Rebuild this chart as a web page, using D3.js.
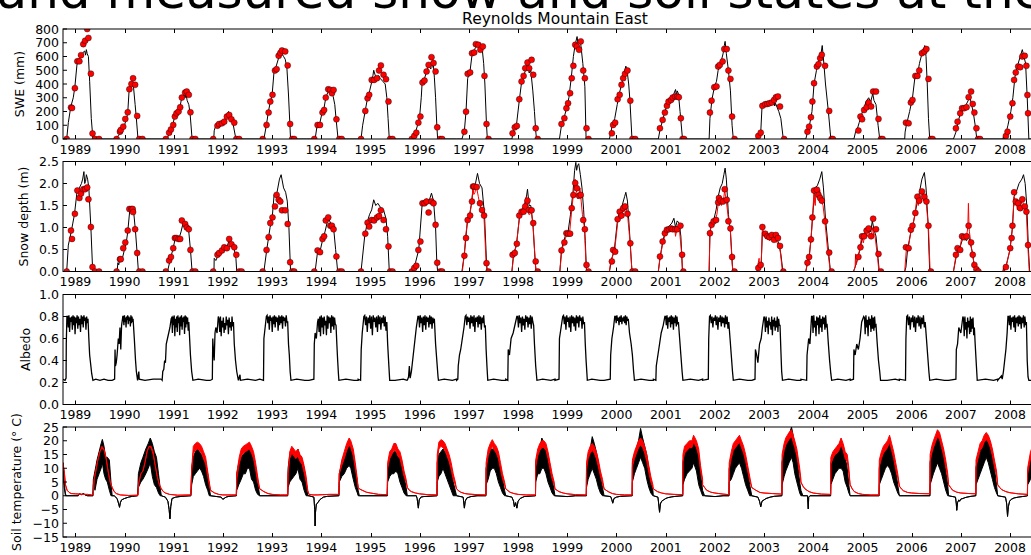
<!DOCTYPE html>
<html>
<head>
<meta charset="utf-8">
<script src="https://cdnjs.cloudflare.com/ajax/libs/d3/7.8.5/d3.min.js"></script>
<style>
  body { margin: 0; background: #fff; overflow: hidden; }
  text { font-family: "DejaVu Sans", sans-serif; fill: #000; }
</style>
</head>
<body>
<svg id="chart"></svg>
<script>
var width = 1031, height = 555;

// water years Oct 1 .. Sep 30; every point below is [months since Oct 1, value...]
var waterYears = d3.range(1989, 2009);
var yearTicks = d3.range(1989, 2009);

var sweModel = [
  [[0,0],[0.9,0],[1.3,120],[1.9,235],[2.5,300],[2.9,380],[3.4,540],[3.8,570],[4.4,600],[4.9,630],[5.3,640],[5.5,610],[5.7,650],[5.9,620],[6.2,600],[6.5,420],[6.9,150],[7.3,0],[12,0]],
  [[0,0],[1.2,0],[1.3,20],[1.6,25],[2.0,50],[2.5,70],[3.0,100],[3.5,150],[3.8,190],[4.1,340],[4.4,380],[4.8,410],[5.0,400],[5.2,380],[5.6,250],[5.9,150],[6.3,0],[12,0]],
  [[0,0],[1.4,0],[1.9,40],[2.3,70],[2.8,100],[3.2,160],[3.6,200],[4.0,210],[4.5,225],[4.9,290],[5.3,310],[5.6,330],[5.8,300],[6.0,330],[6.3,280],[6.7,250],[7.0,190],[7.5,0],[12,0]],
  [[0,0],[0.8,0],[0.9,60],[1.1,80],[1.4,100],[2.0,110],[2.8,120],[3.4,140],[3.9,160],[4.4,200],[4.7,170],[5.0,150],[5.5,110],[6.2,0],[12,0]],
  [[0,0],[1.0,0],[1.6,100],[2.1,200],[2.5,260],[3.0,320],[3.5,500],[3.9,520],[4.3,560],[4.7,600],[5.1,650],[5.4,620],[5.8,600],[6.2,580],[6.6,520],[7.0,320],[7.5,0],[12,0]],
  [[0,0],[1.5,0],[2.0,100],[2.6,110],[3.2,190],[3.7,230],[4.1,300],[4.6,340],[4.9,355],[5.2,345],[5.6,330],[5.9,310],[6.3,250],[6.6,150],[7.1,0],[12,0]],
  [[0,0],[0.7,0],[1.1,100],[1.7,200],[2.3,300],[2.8,350],[3.2,400],[3.6,460],[3.8,500],[4.2,460],[4.6,450],[5.0,460],[5.4,440],[6.0,420],[6.6,400],[7.0,300],[7.3,150],[7.6,0],[12,0]],
  [[0,0],[1.0,0],[1.6,30],[2.0,50],[2.5,100],[3.0,160],[3.4,300],[3.6,400],[4.3,450],[4.8,500],[5.3,540],[5.7,510],[6.0,520],[6.3,560],[6.6,450],[6.9,300],[7.2,100],[7.4,0],[12,0]],
  [[0,0],[1.3,0],[1.9,60],[2.3,200],[2.7,440],[3.3,500],[3.8,620],[4.3,650],[4.8,670],[5.1,690],[5.5,660],[5.9,650],[6.3,640],[6.6,550],[6.9,400],[7.3,100],[7.5,0],[12,0]],
  [[0,0],[1.5,0],[1.8,50],[2.2,80],[2.6,100],[3.3,280],[3.8,400],[4.3,450],[4.8,500],[5.1,530],[5.4,560],[5.7,480],[6.1,500],[6.6,350],[7.0,200],[7.3,60],[7.5,0],[12,0]],
  [[0,0],[1.1,0],[1.6,100],[2.2,150],[2.8,220],[3.4,300],[4.0,450],[4.5,600],[4.9,680],[5.2,720],[5.4,745],[5.6,700],[5.9,710],[6.3,690],[6.8,550],[7.1,450],[7.3,380],[7.6,0],[12,0]],
  [[0,0],[1.3,0],[2.0,100],[2.6,150],[3.2,250],[3.7,330],[4.3,400],[4.8,470],[5.3,530],[5.6,500],[6.0,400],[6.3,280],[6.8,0],[12,0]],
  [[0,0],[1.2,0],[1.7,80],[2.3,140],[2.8,200],[3.3,240],[3.8,270],[4.5,300],[5.0,330],[5.4,360],[5.6,320],[5.8,350],[6.1,330],[6.5,200],[7.1,0],[12,0]],
  [[0,0],[1.6,0],[1.8,150],[2.3,290],[2.9,380],[3.4,420],[3.8,500],[4.4,550],[5.0,620],[5.3,680],[5.5,710],[5.8,620],[6.3,500],[6.8,350],[7.2,100],[7.5,0],[12,0]],
  [[0,0],[1.3,0],[1.8,20],[2.2,50],[2.5,230],[2.8,250],[3.3,260],[4.0,270],[4.8,280],[5.4,300],[5.6,240],[5.8,260],[6.2,230],[6.6,200],[7.1,150],[7.7,0],[12,0]],
  [[0,0],[1.2,0],[1.6,50],[2.1,100],[2.7,200],[3.2,400],[3.8,500],[4.3,560],[4.8,600],[5.2,680],[5.6,550],[6.0,400],[6.7,200],[7.3,0],[12,0]],
  [[0,0],[0.9,0],[1.3,50],[1.8,80],[2.2,120],[3.0,200],[3.5,230],[3.8,270],[4.5,300],[5.0,270],[5.5,330],[5.8,280],[6.3,250],[6.8,100],[7.2,0],[12,0]],
  [[0,0],[1.3,0],[1.4,50],[1.7,100],[2.5,200],[3.2,300],[3.8,450],[4.5,480],[4.9,550],[5.5,620],[6.0,660],[6.2,680],[6.5,600],[6.8,400],[7.1,150],[7.4,0],[12,0]],
  [[0,0],[1.2,0],[1.8,50],[2.3,120],[3.0,200],[3.7,230],[4.3,250],[4.8,280],[5.2,310],[5.6,250],[6.0,200],[6.5,100],[6.9,0],[12,0]],
  [[0,0],[1.3,0],[1.4,20],[1.6,0],[1.9,30],[2.5,100],[3.2,200],[3.7,300],[4.2,450],[4.7,520],[5.0,550],[5.5,600],[6.0,650],[6.4,600],[6.8,550],[7.2,300],[7.6,0],[12,0]]
];

var sweObs = [
  [[0.9,0],[1.95,230],[2.2,225],[2.9,370],[3.5,565],[4.0,565],[4.4,610],[4.95,690],[5.4,715],[5.9,800],[6.2,735],[6.8,475],[7.2,40],[7.8,0],[8.8,0]],
  [[1.08,0],[1.9,53],[2.1,65],[2.7,90],[3.2,146],[3.8,194],[4.2,362],[4.7,400],[5.1,442],[5.6,394],[6.1,168],[6.6,0],[7.4,0]],
  [[1.1,0],[1.9,46],[2.35,70],[2.9,102],[3.3,163],[3.7,187],[4.2,200],[4.6,231],[5.0,301],[5.8,338],[6.2,345],[6.7,321],[7.1,194],[7.6,0],[8.3,0]],
  [[0.66,0],[1.7,97],[2.1,109],[2.8,114],[3.35,126],[4.0,163],[4.56,175],[5.1,143],[5.8,119],[6.3,0],[7.0,0]],
  [[0.7,0],[1.65,102],[2.15,192],[2.56,272],[3.1,321],[3.7,498],[4.1,508],[4.6,605],[5.0,625],[5.4,644],[6.2,637],[6.8,535],[7.4,109],[7.9,0],[8.4,0]],
  [[1.3,0],[2.1,102],[2.7,102],[3.3,192],[3.7,211],[4.1,301],[4.7,362],[5.2,357],[5.6,333],[6.0,357],[6.7,143],[7.4,0],[8.0,0]],
  [[0.7,0],[1.75,204],[2.3,296],[2.7,321],[3.3,430],[3.9,430],[4.6,442],[5.1,498],[5.55,535],[6.2,467],[6.8,435],[7.4,272],[7.8,0],[8.4,0]],
  [[1.1,0],[1.7,22],[2.2,46],[2.7,119],[3.2,163],[3.7,411],[4.2,425],[4.7,491],[5.2,539],[5.9,595],[6.4,552],[6.9,491],[7.3,85],[8.0,0],[8.5,0]],
  [[1.9,53],[2.3,199],[2.7,474],[3.3,484],[3.75,624],[4.3,629],[4.7,690],[5.3,685],[5.8,649],[6.4,673],[6.8,459],[7.3,109],[7.8,0]],
  [[1.66,41],[2.2,85],[2.7,95],[3.3,289],[3.85,418],[4.35,459],[4.75,515],[5.3,556],[5.7,515],[6.3,576],[6.7,467],[7.3,78],[7.8,0]],
  [[1.6,109],[2.3,151],[2.8,224],[3.2,260],[3.7,333],[4.1,442],[4.5,532],[4.95,685],[5.35,673],[5.9,649],[6.3,710],[6.9,498],[7.3,442],[7.7,78],[8.2,0]],
  [[1.9,41],[2.2,102],[2.7,119],[3.3,289],[3.8,321],[4.25,394],[4.65,442],[5.1,474],[5.7,498],[6.4,279],[6.9,0],[7.6,0]],
  [[1.6,78],[2.25,139],[2.8,192],[3.3,241],[3.7,272],[4.3,284],[4.7,301],[5.3,309],[5.8,309],[6.2,304],[6.7,151],[7.1,0],[7.5,0]],
  [[1.8,192],[2.2,279],[2.85,377],[3.4,382],[3.8,527],[4.2,539],[4.9,564],[5.3,654],[5.9,654],[6.3,498],[6.8,437],[7.2,163],[7.8,0]],
  [[1.6,22],[2.2,46],[2.6,241],[3.3,253],[3.8,255],[4.3,260],[4.9,265],[5.45,284],[5.9,304],[6.4,309],[6.9,236],[7.9,0]],
  [[1.6,53],[2.0,90],[2.45,158],[2.8,272],[3.2,406],[3.9,527],[4.3,544],[4.7,588],[5.1,612],[5.9,532],[6.9,204],[7.5,0],[7.8,0]],
  [[2.0,61],[2.5,163],[2.9,143],[3.4,211],[4.0,231],[4.5,265],[5.1,236],[5.6,345],[6.3,345],[6.9,146],[7.5,0],[7.9,0]],
  [[1.6,119],[2.25,114],[2.8,265],[3.2,284],[3.9,459],[4.4,459],[4.85,498],[5.5,624],[6.1,637],[6.6,654],[7.1,437],[7.7,0],[8.1,0]],
  [[1.8,78],[2.2,126],[2.85,187],[3.3,224],[3.8,224],[4.4,231],[4.9,304],[5.5,345],[5.9,255],[6.3,192],[6.8,78],[7.2,0],[7.7,0]],
  [[2.0,22],[2.4,53],[3.05,163],[3.6,260],[4.0,430],[4.4,484],[5.0,527],[5.5,522],[6.0,600],[6.6,605],[7.0,532],[7.25,320],[7.4,187]]
];

var depthModel = [
  [[0,0],[0.9,0],[1.3,0.6],[2.0,0.9],[2.4,1.1],[2.8,1.3],[3.4,1.8],[4.0,1.9],[4.5,2.0],[4.8,2.1],[5.1,2.27],[5.3,2.0],[5.5,2.05],[5.7,2.2],[6.0,2.1],[6.3,1.9],[6.8,1.0],[7.2,0.1],[7.4,0],[12,0]],
  [[0,0],[1.2,0],[1.4,0.2],[1.6,0.15],[1.9,0.3],[2.2,0.25],[2.5,0.3],[3.0,0.5],[3.5,0.7],[3.8,0.9],[4.3,1.4],[4.8,1.45],[5.3,1.3],[5.7,0.9],[6.1,0.4],[6.4,0],[12,0]],
  [[0,0],[1.5,0],[2.0,0.2],[2.8,0.5],[3.4,0.75],[4.3,0.75],[4.8,0.9],[5.3,1.1],[5.6,1.0],[5.8,1.05],[6.2,1.0],[6.7,0.9],[7.1,0.5],[7.5,0],[12,0]],
  [[0,0],[0.85,0],[0.9,0.3],[1.3,0.25],[2.0,0.4],[3.0,0.5],[4.0,0.55],[4.5,0.7],[5.0,0.6],[5.8,0.5],[6.2,0.3],[6.4,0],[7.2,0],[7.3,0.03],[7.5,0],[12,0]],
  [[0,0],[1.0,0],[1.7,0.5],[2.5,1.0],[3.0,1.2],[3.5,1.75],[4.2,1.8],[4.8,2.1],[5.2,2.2],[5.8,1.9],[6.3,1.8],[6.7,1.6],[7.1,1.0],[7.5,0],[12,0]],
  [[0,0],[1.5,0],[2.1,0.45],[2.8,0.5],[3.4,0.75],[3.9,0.9],[4.4,1.1],[4.8,1.2],[5.5,1.05],[6.0,1.0],[6.5,0.5],[7.0,0],[12,0]],
  [[0,0],[0.7,0],[1.6,0.8],[2.3,1.15],[2.8,1.3],[3.3,1.4],[3.8,1.63],[4.3,1.5],[4.8,1.55],[5.5,1.45],[6.2,1.4],[6.8,1.2],[7.2,0.8],[7.6,0],[12,0]],
  [[0,0],[1.0,0],[2.0,0.2],[2.8,0.5],[3.6,1.5],[4.2,1.6],[4.8,1.65],[5.3,1.6],[5.9,1.78],[6.4,1.6],[6.9,1.0],[7.2,0.2],[7.4,0],[12,0]],
  [[0,0],[1.3,0],[1.9,0.4],[2.7,1.2],[3.2,1.3],[3.7,1.6],[4.1,1.95],[4.6,2.0],[5.1,2.23],[5.6,2.0],[6.2,1.9],[6.8,1.3],[7.3,0.2],[7.5,0],[12,0]],
  [[0,0],[1.5,0],[1.9,0.4],[2.6,0.6],[3.3,1.2],[3.9,1.35],[4.4,1.45],[4.9,1.6],[5.3,1.87],[5.7,1.5],[6.1,1.5],[6.6,1.1],[7.2,0.2],[7.4,0],[12,0]],
  [[0,0],[1.2,0],[1.6,0.5],[2.5,0.8],[3.2,0.9],[3.8,1.3],[4.4,1.8],[4.8,2.3],[5.1,2.48],[5.3,2.3],[5.5,2.4],[5.8,2.45],[6.2,2.2],[6.6,1.9],[7.0,1.4],[7.4,0.7],[7.7,0],[12,0]],
  [[0,0],[1.3,0],[1.9,0.3],[2.5,0.5],[3.3,1.2],[3.8,1.35],[4.4,1.5],[5.0,1.7],[5.3,1.8],[5.7,1.6],[6.2,0.9],[6.8,0],[12,0]],
  [[0,0],[1.2,0],[1.6,0.3],[2.3,0.7],[2.9,0.9],[3.5,1.0],[4.0,1.05],[4.5,1.1],[5.0,1.21],[5.4,1.0],[5.8,1.15],[6.3,1.1],[6.7,0.8],[7.1,0],[12,0]],
  [[0,0],[1.6,0],[1.8,0.9],[2.3,1.1],[2.8,1.2],[3.3,1.4],[3.8,1.7],[4.3,1.9],[4.8,2.0],[5.2,2.2],[5.5,2.35],[5.8,2.1],[6.3,1.3],[6.8,0.9],[7.3,0.1],[7.5,0],[12,0]],
  [[0,0],[1.3,0],[2.0,0.1],[2.3,0.15],[2.6,0.9],[3.3,0.9],[4.0,0.8],[4.8,0.85],[5.4,0.8],[6.0,0.75],[6.6,0.65],[7.1,0.4],[7.6,0],[12,0]],
  [[0,0],[1.2,0],[1.6,0.2],[2.1,0.4],[2.5,0.8],[2.9,1.3],[3.4,1.9],[4.0,1.95],[4.6,2.1],[5.1,2.27],[5.5,1.9],[6.0,1.2],[6.6,0.6],[7.2,0],[12,0]],
  [[0,0],[0.8,0],[1.2,0.1],[1.8,0.3],[2.4,0.5],[3.0,0.8],[3.5,0.85],[4.0,0.95],[4.5,1.0],[5.0,0.9],[5.4,1.15],[5.8,0.95],[6.3,0.8],[6.8,0.3],[7.1,0],[12,0]],
  [[0,0],[1.3,0],[1.6,0.1],[2.0,0.5],[2.8,0.9],[3.2,1.0],[3.8,1.3],[4.4,1.6],[4.9,1.8],[5.5,2.1],[6.1,2.25],[6.5,1.9],[7.0,1.1],[7.4,0],[12,0]],
  [[0,0],[1.2,0],[1.8,0.3],[2.2,0.5],[2.8,0.55],[3.3,0.7],[3.8,0.75],[4.4,0.7],[4.9,0.8],[5.4,0.6],[5.9,0.4],[6.3,0.1],[6.6,0],[12,0]],
  [[0,0],[1.3,0],[1.4,0.08],[1.6,0],[1.8,0.06],[2.0,0.1],[3.0,0.5],[3.6,1.0],[4.0,1.7],[4.5,1.8],[5.2,2.0],[5.9,2.1],[6.3,2.2],[6.7,2.0],[7.1,1.5],[7.5,0.5],[7.8,0],[12,0]]
];

// continuous depth sensor, only from water year 1997 on
var depthSensor = [
  [],[],[],[],[],[],[],[],
  [[0,0],[1.4,0],[1.9,0.4],[2.2,0.8],[2.6,1.1],[3.2,1.3],[3.6,1.5],[3.8,1.7],[4.0,1.9],[4.2,1.75],[4.5,1.8],[4.7,1.95],[4.9,1.9],[5.3,1.7],[5.5,1.6],[5.8,1.5],[6.0,1.4],[6.3,1.3],[6.7,1.2],[7.2,0.2],[7.4,0],[12,0]],
  [[0,0],[1.5,0],[1.9,0.35],[2.6,0.6],[3.3,1.2],[3.6,1.25],[3.8,1.3],[4.1,1.45],[4.5,1.5],[4.8,1.65],[5.0,1.7],[5.2,1.55],[5.4,1.5],[5.6,1.3],[5.9,1.3],[6.2,1.4],[6.7,1.0],[7.2,0.2],[7.4,0],[12,0]],
  [[0,0],[1.2,0],[1.6,0.4],[1.9,0.55],[2.3,0.7],[3.0,0.85],[3.6,0.9],[4.1,1.4],[4.5,1.75],[4.9,2.1],[5.1,1.9],[5.3,1.8],[5.6,1.65],[5.8,1.7],[6.1,1.9],[6.4,1.6],[6.7,1.3],[7.2,1.0],[7.6,0.1],[7.8,0],[12,0]],
  [[0,0],[1.3,0],[1.5,0.15],[1.9,0.3],[2.6,0.5],[3.3,1.1],[3.8,1.3],[4.2,1.2],[4.6,1.5],[4.8,1.35],[5.0,1.4],[5.2,1.5],[5.4,1.45],[5.8,1.2],[6.3,0.7],[6.8,0],[12,0]],
  [[0,0],[1.2,0],[1.6,0.3],[2.3,0.65],[2.9,0.85],[3.5,0.95],[4.0,0.95],[4.5,1.0],[5.0,0.95],[5.2,1.0],[5.4,0.8],[5.6,0.9],[5.9,1.0],[6.4,0.9],[6.9,0.4],[7.1,0],[12,0]],
  [[0,0],[1.6,0],[1.8,0.85],[2.0,1.05],[2.3,1.1],[3.0,1.15],[3.5,1.3],[3.9,1.6],[4.1,1.5],[4.4,1.65],[4.6,1.5],[4.9,1.6],[5.2,1.7],[5.4,1.85],[5.6,1.7],[5.8,1.6],[6.3,1.2],[6.8,0.9],[7.2,0.2],[7.4,0],[12,0]],
  [[0,0],[1.3,0],[1.6,0.2],[1.8,0.3],[1.9,0.1],[2.3,0.15],[2.6,1.0],[3.0,0.85],[3.4,0.75],[3.9,0.85],[4.2,0.75],[4.4,0.7],[4.7,0.85],[4.9,0.85],[5.2,0.7],[5.4,0.7],[5.7,0.85],[5.9,0.8],[6.2,0.65],[6.5,0.6],[6.9,0.5],[7.5,0],[12,0]],
  [[0,0],[1.2,0],[1.6,0.2],[2.1,0.4],[2.5,0.75],[2.8,1.2],[3.2,1.8],[3.3,1.6],[3.5,1.5],[3.7,1.9],[3.9,1.8],[4.2,1.7],[4.6,1.85],[5.0,1.6],[5.4,1.5],[5.9,1.1],[6.5,0.5],[7.2,0],[12,0]],
  [[0,0],[0.8,0],[1.2,0.1],[1.3,0.4],[1.4,0.15],[1.6,0.2],[2.3,0.5],[2.8,0.8],[3.2,0.65],[3.7,0.9],[4.2,0.8],[4.6,0.95],[5.0,0.75],[5.3,0.9],[5.5,1.0],[5.7,0.85],[6.0,0.85],[6.7,0.3],[7.0,0],[12,0]],
  [[0,0],[1.3,0],[1.7,0.5],[2.2,0.55],[2.8,0.9],[3.2,1.0],[3.8,1.3],[4.3,1.7],[4.6,1.5],[4.8,1.6],[5.1,1.55],[5.3,1.75],[5.6,1.8],[5.9,1.6],[6.1,1.65],[6.5,1.6],[7.1,1.0],[7.5,0],[12,0]],
  [[0,0],[1.2,0],[1.8,0.35],[2.2,0.5],[2.8,0.55],[3.3,0.8],[3.8,0.75],[4.4,0.8],[4.7,1.0],[4.85,1.55],[5.0,1.0],[5.1,0.9],[5.5,0.6],[5.9,0.35],[6.4,0.1],[6.8,0],[12,0]],
  [[0,0],[1.3,0],[1.4,0.05],[1.6,0],[2.0,0.1],[3.0,0.5],[3.6,1.0],[4.0,1.7],[4.2,1.5],[4.5,1.6],[4.8,1.4],[5.0,1.5],[5.5,1.45],[6.0,1.65],[6.3,1.5],[6.6,1.5],[7.0,1.3],[7.4,0.5],[7.7,0],[12,0]]
];

var depthObs = [
  [[0.9,0],[1.95,0.93],[2.2,0.74],[2.9,1.31],[3.5,1.84],[4.0,1.67],[4.4,1.77],[4.95,1.87],[5.4,1.87],[5.9,1.91],[6.2,1.64],[6.8,1.01],[7.2,0.1],[7.8,0],[8.8,0]],
  [[1.08,0],[1.9,0.28],[2.1,0.28],[2.7,0.53],[3.2,0.66],[3.8,0.93],[4.2,1.42],[4.7,1.42],[5.0,1.42],[5.1,1.35],[5.6,0.96],[6.1,0.42],[6.6,0],[7.4,0]],
  [[1.1,0],[1.9,0.25],[2.35,0.33],[2.9,0.53],[3.3,0.76],[3.7,0.76],[4.2,0.74],[4.6,0.74],[5.0,1.16],[5.8,1.08],[6.2,1.0],[6.7,0.96],[7.1,0.49],[7.6,0],[8.3,0]],
  [[0.66,0],[1.7,0.38],[2.1,0.42],[2.8,0.48],[3.35,0.55],[4.0,0.53],[4.56,0.74],[5.1,0.62],[5.8,0.55],[6.3,0.38],[7.0,0],[7.6,0]],
  [[0.7,0],[1.65,0.49],[2.15,0.78],[2.56,1.1],[3.1,1.23],[3.7,1.48],[4.1,1.74],[4.6,1.63],[5.0,1.59],[5.4,1.39],[6.2,1.39],[6.8,1.08],[7.4,0.21],[7.9,0],[8.4,0]],
  [[1.3,0],[2.1,0.48],[2.7,0.44],[3.3,0.74],[3.7,0.8],[4.1,1.16],[4.7,1.23],[5.2,1.04],[5.6,1.04],[6.0,0.96],[6.7,0.34],[7.4,0],[8.0,0]],
  [[0.7,0],[1.75,0.86],[2.3,1.11],[2.7,1.02],[3.3,1.17],[3.9,1.16],[4.6,1.23],[5.1,1.26],[5.55,1.39],[6.2,1.17],[6.8,0.96],[7.4,0.57],[7.8,0],[8.4,0]],
  [[1.1,0],[1.7,0.08],[2.2,0.13],[2.7,0.49],[3.2,0.68],[3.7,1.55],[4.2,1.55],[4.7,1.59],[5.2,1.34],[5.9,1.59],[6.4,1.55],[6.9,1.06],[7.3,0.2],[8.0,0],[8.5,0]],
  [[1.9,0.36],[2.3,0.76],[2.7,1.17],[3.3,1.27],[3.75,1.59],[4.0,1.93],[4.3,1.93],[4.9,1.92],[5.7,1.55],[6.2,1.4],[6.7,1.27],[7.3,0.19],[7.8,0]],
  [[1.66,0.38],[2.2,0.42],[2.7,0.63],[3.3,1.27],[3.85,1.36],[4.35,1.36],[4.75,1.48],[5.3,1.61],[5.7,1.4],[6.3,1.39],[6.7,1.1],[7.3,0.23],[7.8,0]],
  [[1.6,0.48],[2.3,0.66],[2.8,0.87],[3.2,0.86],[3.7,0.86],[4.1,1.44],[4.5,1.74],[4.95,2.01],[5.35,1.89],[5.9,1.72],[6.3,1.74],[6.9,1.17],[7.3,0.96],[7.7,0.15],[8.2,0]],
  [[1.9,0.23],[2.2,0.49],[2.7,0.45],[3.3,1.19],[3.8,1.36],[4.25,1.27],[4.65,1.44],[5.1,1.48],[5.7,1.31],[6.4,0.64],[6.9,0],[7.6,0]],
  [[1.6,0.34],[2.25,0.68],[2.8,0.87],[3.3,0.95],[3.8,0.96],[4.3,0.98],[4.7,0.96],[5.3,0.96],[5.8,0.96],[6.6,1.04],[7.0,0.38],[7.3,0]],
  [[1.8,0.87],[2.2,1.06],[2.7,1.14],[3.3,1.17],[3.8,1.57],[4.0,1.67],[4.4,1.61],[5.0,1.59],[5.4,1.87],[5.9,1.63],[6.3,1.14],[6.8,0.98],[7.2,0.33],[7.8,0]],
  [[1.6,0.08],[2.2,0.15],[2.6,1.01],[3.3,0.86],[3.8,0.8],[4.3,0.78],[4.9,0.83],[5.45,0.72],[5.9,0.83],[6.4,0.76],[6.9,0.58],[7.7,0]],
  [[1.6,0.2],[2.0,0.33],[2.45,0.73],[2.8,1.23],[3.2,1.84],[3.9,1.86],[4.3,1.74],[4.7,1.67],[5.1,1.61],[5.9,1.14],[6.9,0.43],[7.5,0]],
  [[2.0,0.33],[2.5,0.55],[2.9,0.8],[3.4,0.8],[4.0,0.93],[4.5,0.98],[5.1,0.8],[5.6,1.2],[6.3,0.96],[6.9,0.4],[7.5,0]],
  [[1.6,0.55],[2.25,0.53],[2.8,0.95],[3.2,1.04],[3.9,1.33],[4.4,1.7],[4.85,1.61],[5.5,1.82],[6.1,1.7],[6.6,1.59],[7.1,1.04],[7.7,0]],
  [[1.8,0.38],[2.2,0.53],[2.85,0.49],[3.3,0.8],[3.8,0.78],[4.4,0.8],[4.9,1.04],[5.5,0.66],[5.9,0.38],[6.3,0.15],[6.8,0.05],[7.3,0]],
  [[2.0,0.1],[3.05,0.53],[3.4,0.76],[3.6,1.04],[4.0,1.8],[4.4,1.59],[5.0,1.55],[5.5,1.44],[6.0,1.64],[6.6,1.48],[7.0,1.36],[7.4,0.6]]
];

// albedo: autumn rise, winter plateau values (in order), spring drop + summer
var albedoOnset = [
  [[0,.23],[0.5,.22],[0.75,.24],[0.8,.55],[0.95,.8]],
  [[0,.22],[0.6,.23],[0.7,.5],[0.8,.35],[1.0,.38],[1.2,.45],[1.5,.6],[1.7,.55],[1.9,.7],[2.1,.5],[2.3,.72],[2.6,.8]],
  [[0,.23],[0.2,.22],[0.35,.3],[0.6,.32],[0.8,.4],[1.0,.38],[1.2,.55],[1.5,.6],[1.8,.65],[2.1,.7],[2.4,.78]],
  [[0,.22],[0.45,.23],[0.55,.6],[0.7,.5],[0.9,.4],[1.1,.65],[1.3,.7],[1.6,.65],[1.9,.8]],
  [[0,.23],[0.9,.22],[1.0,.6],[1.3,.7],[1.6,.8]],
  [[0,.22],[1.2,.23],[1.3,.55],[1.5,.65],[1.8,.6],[2.1,.75]],
  [[0,.23],[0.6,.22],[0.75,.5],[1.0,.65],[1.4,.8]],
  [[0,.22],[0.3,.25],[0.5,.35],[0.7,.24],[1.0,.3],[1.3,.4],[1.6,.5],[1.9,.6],[2.2,.7],[2.6,.8]],
  [[0,.22],[0.3,.23],[0.4,.35],[0.7,.45],[1.0,.5],[1.4,.6],[1.8,.7],[2.1,.8]],
  [[0,.23],[0.5,.22],[0.6,.5],[0.9,.45],[1.3,.6],[1.8,.65],[2.4,.75],[2.7,.8]],
  [[0,.22],[1.0,.23],[1.1,.6],[1.5,.7],[1.9,.8]],
  [[0,.22],[1.5,.23],[1.6,.45],[1.9,.6],[2.3,.7],[2.6,.8]],
  [[0,.23],[0.6,.22],[0.7,.35],[1.1,.45],[1.5,.55],[1.9,.65],[2.4,.72],[2.8,.8]],
  [[0,.22],[1.4,.23],[1.5,.6],[1.7,.8]],
  [[0,.22],[0.8,.23],[0.9,.5],[1.2,.45],[1.5,.38],[1.9,.55],[2.3,.6],[2.6,.7],[3.0,.8]],
  [[0,.23],[1.4,.22],[1.5,.45],[1.9,.6],[2.2,.55],[2.6,.8]],
  [[0,.22],[0.8,.23],[0.9,.5],[1.2,.45],[1.6,.55],[2.0,.5],[2.4,.6],[2.8,.75],[3.3,.8]],
  [[0,.23],[1.5,.22],[1.6,.6],[1.8,.8]],
  [[0,.22],[1.8,.23],[1.9,.5],[2.2,.55],[2.5,.7],[3.0,.65],[3.5,.8]],
  [[0,.22],[0.9,.26],[1.1,.23],[1.4,.3],[1.7,.4],[2.0,.5],[2.3,.65],[2.5,.8]]
];

var albedoWinter = [
  [.8,.7,.81,.66,.79,.75,.8,.68,.81,.72,.8,.64,.79,.74,.81,.69,.8,.72,.78,.66,.81,.73,.8,.7,.81,.76,.79,.68,.8,.74],
  [.8,.72,.81,.75,.79,.7,.8,.77,.81,.73,.8,.76,.79,.71,.81,.74,.8,.75],
  [.79,.65,.8,.72,.81,.62,.78,.7,.8,.66,.81,.74,.79,.63,.8,.71,.81,.68,.79,.75,.8,.64,.81,.7,.8,.73,.79,.67],
  [.78,.66,.8,.62,.76,.7,.79,.65,.74,.68,.8,.72,.77,.64,.79,.7,.75,.67,.8,.71],
  [.81,.74,.8,.68,.81,.76,.79,.66,.8,.73,.81,.7,.8,.75,.79,.67,.81,.72,.8,.74,.81,.69,.8,.76,.79,.71,.81,.75],
  [.78,.66,.8,.62,.81,.7,.79,.64,.8,.72,.76,.63,.81,.69,.8,.74,.79,.65,.81,.71,.8,.68,.79,.73],
  [.81,.72,.8,.66,.79,.74,.81,.69,.8,.63,.81,.75,.79,.7,.8,.66,.81,.73,.8,.68,.79,.74,.81,.71,.8,.67],
  [.8,.7,.81,.74,.79,.66,.8,.72,.81,.68,.8,.75,.79,.7,.81,.73,.8,.69,.79,.74],
  [.81,.72,.8,.75,.79,.69,.81,.74,.8,.71,.81,.66,.79,.75,.8,.7,.81,.73,.8,.68,.79,.74,.81,.7],
  [.8,.7,.81,.74,.79,.66,.8,.72,.78,.68,.81,.75,.8,.7,.79,.73,.81,.69,.8,.75],
  [.81,.73,.8,.68,.81,.75,.79,.7,.8,.66,.81,.74,.8,.71,.79,.67,.81,.74,.8,.7,.81,.76,.79,.69,.8,.73],
  [.8,.74,.81,.76,.79,.72,.8,.75,.81,.73,.79,.77,.8,.74,.81,.72,.8,.76],
  [.8,.72,.81,.69,.79,.75,.8,.7,.81,.73,.8,.68,.79,.74,.81,.71,.8,.73],
  [.81,.74,.8,.7,.79,.76,.81,.72,.8,.68,.79,.75,.81,.71,.8,.74,.79,.7,.81,.73,.8,.69],
  [.78,.66,.8,.7,.76,.64,.79,.72,.75,.68,.8,.63,.77,.71,.79,.67,.76,.7,.8,.66,.78,.72],
  [.8,.65,.81,.7,.76,.62,.8,.72,.79,.64,.81,.7,.78,.66,.8,.73,.79,.68,.81,.71],
  [.79,.64,.81,.7,.77,.62,.8,.72,.78,.66,.81,.69,.79,.67,.8,.71],
  [.81,.72,.8,.68,.79,.75,.81,.7,.8,.66,.79,.74,.81,.71,.8,.69,.79,.73,.81,.7],
  [.78,.62,.8,.68,.75,.6,.79,.7,.76,.64,.8,.66,.78,.69,.79,.63],
  [.8,.72,.81,.68,.79,.75,.8,.7,.81,.66,.79,.74,.8,.71,.81,.73,.8,.69,.79,.74,.81,.7,.8,.72]
];

var albedoMelt = [
  [[6.1,.78],[6.3,.6],[6.5,.45],[6.8,.35],[7.0,.28],[7.3,.22],[8,.23],[9,.22],[10,.23],[11,.22],[12,.22]],
  [[5.1,.78],[5.4,.6],[5.7,.4],[5.9,.3],[6.2,.22],[6.5,.3],[6.6,.23],[8,.22],[10,.23],[12,.23]],
  [[6.7,.75],[6.9,.6],[7.1,.45],[7.4,.3],[7.7,.22],[9,.23],[11,.22],[12,.22]],
  [[5.6,.75],[5.8,.55],[6.1,.4],[6.4,.3],[6.8,.22],[7.2,.27],[7.3,.22],[9,.23],[11,.22],[12,.23]],
  [[6.8,.75],[7.0,.55],[7.2,.45],[7.4,.3],[7.6,.22],[9,.23],[11,.22],[12,.22]],
  [[6.6,.72],[6.8,.55],[7.0,.4],[7.2,.27],[7.3,.22],[9,.23],[11,.22],[12,.22]],
  [[7.0,.75],[7.2,.55],[7.5,.35],[7.7,.22],[9,.22],[11,.23],[12,.22]],
  [[6.6,.78],[6.9,.55],[7.2,.4],[7.5,.25],[7.6,.22],[9,.23],[11,.22],[12,.23]],
  [[7.0,.72],[7.2,.5],[7.4,.35],[7.6,.22],[9,.23],[11,.22],[12,.22]],
  [[6.8,.72],[7.0,.55],[7.3,.35],[7.6,.22],[9,.23],[11,.22],[12,.23]],
  [[7.2,.75],[7.4,.55],[7.6,.4],[7.9,.22],[9,.23],[11,.22],[12,.22]],
  [[5.9,.78],[6.2,.65],[6.6,.55],[6.9,.45],[7.2,.3],[7.4,.22],[9,.23],[11,.22],[12,.22]],
  [[6.1,.75],[6.4,.6],[6.7,.45],[7.0,.3],[7.2,.22],[9,.23],[11,.22],[12,.23]],
  [[6.4,.75],[6.7,.6],[7.0,.45],[7.3,.3],[7.5,.22],[9,.23],[11,.22],[12,.22]],
  [[6.9,.72],[7.1,.5],[7.3,.3],[7.5,.22],[9,.23],[11,.22],[12,.22]],
  [[6.4,.72],[6.7,.55],[7.0,.4],[7.3,.28],[7.5,.22],[9,.23],[11,.22],[12,.23]],
  [[6.3,.72],[6.6,.55],[6.9,.4],[7.2,.3],[7.4,.22],[9,.22],[11,.23],[12,.22]],
  [[6.3,.75],[6.6,.6],[6.9,.45],[7.2,.3],[7.4,.22],[9,.23],[11,.22],[12,.22]],
  [[6.3,.7],[6.5,.55],[6.8,.35],[7.0,.22],[9,.23],[11,.22],[12,.23]],
  [[7.0,.75],[7.2,.4],[7.4,.25],[7.6,.22],[9,.22],[12,.22]]
];

// soil temperature, [month, daily low, daily high]
var soilBlack = [
  [[0,8,12],[0.3,3,5],[0.6,0,0.5],[1,0,0],[3.7,0,0],[4.0,0.7,0.7],[4.5,0.4,0.4],[5.0,0.8,0.8],[5.5,0.2,0.2],[6,0,0],[7.3,0,0],[7.4,4,6],[7.8,2,9],[8.3,6,13],[8.8,8,16],[9.3,10,19],[9.6,12,20.5],[10.0,8,18],[10.4,6,14],[10.8,5,14],[11.3,2,13],[11.7,0,5],[12,0,0]],
  [[0,0,0],[0.5,0,0],[1.2,-1,-1],[1.6,-3,-3],[1.8,-4.2,-4.2],[2.0,-2.5,-2.5],[2.3,-1.5,-1.5],[3,-1,-1],[4,-0.5,-0.5],[5,-0.2,-0.2],[6.2,0,0],[6.4,3,8],[7,5,12],[7.5,6,14],[8.2,8,17],[8.8,10,19],[9.3,12,21],[9.8,7,19],[10.3,4,16],[10.8,3,14],[11.3,1,8],[11.7,0,3],[12,0,0]],
  [[0,0,0],[1,-0.5,-0.5],[1.6,-2,-2],[1.9,-5,-5],[2.1,-8.4,-8.4],[2.3,-4,-4],[2.6,-1,-1],[3.5,-0.5,-0.5],[5,-0.2,-0.2],[7.2,0,0],[7.4,4,10],[7.8,7,14],[8.3,8,16],[8.8,9,17],[9.3,10,16],[9.8,9,15],[10.3,7,13],[10.8,4,12],[11.3,2,8],[11.7,0,3],[12,0,0]],
  [[0,0,0],[2.6,-0.5,-0.5],[3.0,-1.3,-1.3],[3.3,-1,-1],[3.8,-0.5,-0.5],[4.5,-0.2,-0.2],[6.3,0,0],[6.4,2,8],[6.9,4,12],[7.5,6,14],[8.0,8,15],[8.5,8,16],[9,10,17],[9.5,10,19],[10,6,17],[10.5,5,14],[11,2,10],[11.5,0.5,5],[12,0,0]],
  [[0,0,0],[6.8,0,0],[6.9,3,10],[7.3,5,15],[7.8,6,16],[8.3,7,16],[8.8,8,15],[9.3,10,17],[9.8,6,14],[10.3,5,13],[10.8,2,10],[11.3,0,5],[11.7,0,0],[12,0,0]],
  [[0,0,0],[1.2,-0.5,-0.5],[1.4,-5,-5],[1.5,-11,-11],[1.6,-6,-6],[1.8,-3,-3],[2.2,-2.5,-2.5],[2.6,-1.5,-1.5],[3.5,-0.5,-0.5],[4.5,-0.2,-0.2],[7.3,0,0],[7.4,5,8],[8,7,12],[8.6,8,15],[9.2,10,17],[9.8,11,19],[10.2,10,18],[10.8,6,15],[11.3,3,10],[11.8,1,5],[12,0,2]],
  [[0,0,2],[0.3,0,0],[7.1,0,0],[7.2,5,10],[7.7,7,14],[8.2,8,15],[8.7,8,16],[9.2,9,16],[9.7,8,14],[10.2,5,14],[10.7,3,12],[11.2,1,7],[11.7,0,3],[12,0,0]],
  [[0,0,0],[2.2,0,0],[2.4,-1,-1],[2.7,-4.5,-4.5],[2.9,-1.5,-1.5],[3.3,-0.5,-0.5],[4,-0.3,-0.3],[7.25,0,0],[7.3,5,12],[7.7,7,15],[8.2,8,16],[8.7,10,17],[9.2,8,16],[9.7,6,14],[10.2,4,12],[10.7,2,9],[11.2,0,5],[11.7,0,2],[12,0,0]],
  [[0,0,0],[1.6,-0.5,-0.5],[1.9,-4.5,-4.5],[2.1,-2,-2],[2.5,-0.8,-0.8],[3.5,-0.3,-0.3],[5,0,0],[7.15,0,0],[7.2,4,10],[7.7,6,14],[8.2,9,17],[8.7,10,17],[9.2,10,17],[9.7,8,16],[10.2,5,14],[10.7,3,10],[11.2,1,6],[11.7,0,2],[12,0,0]],
  [[0,0,0],[1.5,-0.5,-0.5],[1.9,-2,-2],[2.1,-4,-4],[2.4,-2.5,-2.5],[2.7,-4.5,-4.5],[3,-2,-2],[3.5,-1,-1],[4.5,-0.3,-0.3],[7.25,0,0],[7.3,5,12],[7.8,8,15],[8.3,8,17],[8.8,10,21],[9.3,10,19],[9.8,8,17],[10.3,5,14],[10.8,3,10],[11.3,1,6],[11.8,0,2],[12,0,0]],
  [[0,0,0],[3,-0.3,-0.3],[5,0,0],[7.65,0,0],[7.7,3,10],[8.1,6,14],[8.6,8,17],[9.1,10,21.5],[9.6,8,19],[10.1,6,16],[10.6,3,12],[11.1,1,7],[11.6,0,3],[12,0,0]],
  [[0,0,0],[1.6,-0.3,-0.3],[1.9,-1.5,-1.5],[2.1,-2.7,-2.7],[2.4,-1,-1],[3,-0.5,-0.5],[4,-0.2,-0.2],[6.85,0,0],[6.9,5,12],[7.4,8,15],[7.9,10,17],[8.4,12,20],[8.9,14,24.5],[9.4,12,21],[9.9,10,18],[10.4,6,15],[10.9,3,10],[11.4,1,5],[11.9,0,2],[12,0,0]],
  [[0,0,0],[1.1,-0.5,-0.5],[1.3,-3,-3],[1.5,-6,-6],[1.7,-3,-3],[2,-2,-2],[2.5,-1.5,-1.5],[3,-1,-1],[3.5,-0.7,-0.7],[4.5,-0.4,-0.4],[5.5,-0.2,-0.2],[7.15,0,0],[7.2,4,12],[7.6,6,15],[8.2,8,17],[8.8,9,18],[9.4,10,19],[9.8,12,20],[10.5,9,18],[11.05,4,14],[11.5,2,8],[12,0,2]],
  [[0,0,2],[0.5,0,0],[3,-0.3,-0.3],[5,0,0],[6.45,0,0],[6.5,5,10],[7,6,14],[7.5,8,17],[8,10,18],[8.5,11,19],[9,12,20],[9.5,10,18],[10,7,16],[10.5,4,13],[11,2,9],[11.5,0,4],[12,0,0]],
  [[0,0,0],[1.5,-0.5,-0.5],[1.9,-2,-2],[2.2,-4,-4],[2.5,-2,-2],[3,-1.5,-1.5],[3.5,-1,-1],[4.5,-0.5,-0.5],[5.5,-0.2,-0.2],[7.35,0,0],[7.4,4,12],[7.9,7,16],[8.3,9,18],[9.1,12,22],[9.7,14,25],[10.1,12,22],[10.5,8,18],[11.0,5,14],[11.7,1,5],[12,0,2]],
  [[0,0,2],[0.5,0,0],[1.6,0,0],[1.8,-4.8,-4.8],[1.9,-0.5,-0.5],[2.2,0,0],[7.25,0,0],[7.3,4,12],[7.8,6,14],[8.3,8,15],[8.8,9,17],[9.3,10,18],[9.8,10,20],[10.3,9,18],[10.8,5,14],[11.3,3,10],[11.7,1,4],[12,0,0]],
  [[0,0,0],[7.05,0,0],[7.1,4,10],[7.6,6,14],[8.1,8,16],[8.6,10,18],[9.1,11,19],[9.6,10,21],[10.1,8,17],[10.6,5,14],[11.1,3,9],[11.6,1,4],[12,0,0]],
  [[0,0,0],[7.45,0,0],[7.5,4,12],[7.9,6,15],[8.3,8,17],[8.8,10,20],[9.3,12,23],[9.8,10,21],[10.3,8,18],[10.8,5,15],[11.3,2,9],[11.8,0,4],[12,0,0]],
  [[0,0,0],[1.7,-0.5,-0.5],[1.9,-3,-3],[2.0,-5.3,-5.3],[2.2,-2.5,-2.5],[2.5,-1.5,-1.5],[2.7,-2,-2],[3,-1.2,-1.2],[3.5,-1,-1],[4,-0.7,-0.7],[4.5,-0.5,-0.5],[5.5,-0.2,-0.2],[6.65,0,0],[6.7,4,10],[7.2,6,14],[7.7,8,16],[8.2,10,18],[8.7,12,20],[9.2,14,22],[9.7,12,21],[10.2,9,18],[10.7,6,15],[11.2,3,10],[11.7,1,4],[12,0,0]],
  [[0,0,0],[1.9,-0.5,-0.5],[2.2,-3,-3],[2.4,-7.5,-7.5],[2.6,-4,-4],[2.9,-2,-2],[3.3,-1.3,-1.3],[4,-0.8,-0.8],[5,-0.5,-0.5],[6,-0.3,-0.3],[7,-0.1,-0.1],[7.25,0,0],[7.3,4,8],[8,6,14],[9,10,18],[10,9,17],[11,3,9],[12,0,0]]
];

var soilRed = [
  [[0,11,12],[0.3,9,9],[0.6,4,4],[1,2,2],[1.5,1.2,1.2],[2,0.8,0.8],[3,0.7,0.7],[5,0.5,0.5],[6,0.5,0.5],[7,0.3,0.3],[7.4,0.5,0.5],[7.6,6,6],[8,9,9],[8.5,13,13],[9,16,16],[9.5,17.5,18],[10,16.5,17],[10.5,13.5,14],[11,9,9],[11.5,5,5],[12,3,3]],
  [[0,3,3],[0.5,1.5,1.5],[1,0.8,0.8],[2,0.3,0.3],[4,0.1,0.1],[6.3,0.2,0.2],[6.4,4,4],[7,8,8],[7.5,9,9],[8,12,12],[8.5,16,16],[9,18,18],[9.5,17.5,18],[10,15,16],[10.5,11,11],[11,7,7],[11.5,4,4],[12,2.5,2.5]],
  [[0,2.5,2.5],[0.5,1.5,1.5],[1,1,1],[2,0.5,0.5],[4,0.2,0.2],[7.2,0.3,0.3],[7.4,9,10],[7.8,15.5,18],[8.3,16.5,19],[8.8,17,19.5],[9.3,16.5,19],[9.8,15.5,18],[10.3,13.5,16],[10.8,11.5,14],[11.3,7,9],[11.7,4,5],[12,2,2]],
  [[0,2,2],[1,1,1],[2,0.5,0.5],[3,0.3,0.3],[6.3,0.3,0.3],[6.4,6,8],[7,11.5,14],[7.5,14.5,17],[8,15.5,18],[8.5,16,18.5],[9,16.5,19],[9.5,17,19.5],[10,15.5,18],[10.5,13.5,16],[11,9.5,12],[11.5,5,7],[12,2.5,2.5]],
  [[0,2.5,2.5],[0.5,2,2],[1,1.5,1.5],[2,0.8,0.8],[3,0.5,0.5],[5,0.3,0.3],[6.8,0.3,0.3],[6.9,8,8],[7.3,13.5,16],[7.8,15.5,18],[8.3,14.5,17],[8.8,13.5,16],[9.3,14.5,17],[9.8,12.5,15],[10.3,11.5,14],[10.8,8.5,11],[11.3,5,7],[11.7,1.5,2],[12,0.5,0.5]],
  [[0,0.5,0.5],[1,0.3,0.3],[2,0.3,0.3],[5,0.5,0.5],[7.3,0.5,0.5],[7.4,8,8],[8,11,13],[8.6,13.5,16],[9.2,16.5,19],[9.8,18.5,21],[10.2,17.5,20],[10.8,14.5,17],[11.3,10,12],[11.8,5,6],[12,3,3]],
  [[0,3,3],[0.3,2.5,2.5],[1,2,2],[2,1.3,1.3],[3,1,1],[5,0.5,0.5],[7.1,0.4,0.4],[7.2,10,12],[7.7,13.5,16],[8.2,15,17],[8.7,16.5,19],[9.2,16.5,19],[9.7,14.5,17],[10.2,13.5,16],[10.7,10.5,13],[11.2,7,9],[11.7,5,6],[12,3,3]],
  [[0,3,3],[0.5,2,2],[1,1.5,1.5],[2,1,1],[3,0.7,0.7],[5,0.4,0.4],[7.25,0.3,0.3],[7.3,12.5,15],[7.7,17,19.5],[8.2,18,20.4],[8.7,17.5,20],[9.2,16.5,19],[9.7,14.5,17],[10.2,12.5,15],[10.7,9.5,12],[11.2,6,8],[11.7,4,5],[12,2.5,2.5]],
  [[0,2.5,2.5],[0.5,1.8,1.8],[1,1.3,1.3],[2,0.8,0.8],[3,0.6,0.6],[5,0.4,0.4],[7.15,0.3,0.3],[7.2,9.5,12],[7.7,14.5,17],[8.2,16.5,19],[8.7,18,20.4],[9.2,16.5,19],[9.7,15.5,18],[10.2,13.5,16],[10.7,9.5,12],[11.2,6,8],[11.7,4,5],[12,2.5,2.5]],
  [[0,2.5,2.5],[1,1.3,1.3],[2,0.8,0.8],[3,0.5,0.5],[5,0.3,0.3],[7.25,0.3,0.3],[7.3,10.5,13],[7.8,14.5,17],[8.3,16.5,19],[8.8,17.5,20],[9.3,17.5,20],[9.8,16.5,19],[10.3,13.5,16],[10.8,9.5,12],[11.3,6,8],[11.8,4,5],[12,2.5,2.5]],
  [[0,2.5,2.5],[1,1.5,1.5],[2,1,1],[3,0.7,0.7],[5,0.4,0.4],[7.65,0.3,0.3],[7.7,9.5,12],[8.1,13.5,16],[8.6,15.5,18],[9.1,16.5,19],[9.6,15.5,18],[10.1,13.5,16],[10.6,10.5,13],[11.1,7,9],[11.6,4.5,6],[12,2.5,2.5]],
  [[0,2.5,2.5],[1,1.5,1.5],[2,0.8,0.8],[3,0.5,0.5],[5,0.3,0.3],[6.85,0.3,0.3],[6.9,10.5,13],[7.4,13.5,16],[7.9,15.5,18],[8.4,17.5,20],[8.9,18.5,21],[9.4,17.5,20],[9.9,15.5,18],[10.4,12.5,15],[10.9,8.5,11],[11.4,5,7],[11.9,3,4],[12,2.5,2.5]],
  [[0,2.5,2.5],[1,1.5,1.5],[2,1,1],[3,0.7,0.7],[5,0.5,0.5],[7.15,0.4,0.4],[7.2,12.5,15],[7.6,15.5,18],[8.2,16.5,19],[8.8,17.5,20],[9.4,17.5,20],[9.8,19.5,22],[10.5,17.5,20],[11.05,14.5,17],[11.5,9,11],[12,5,6]],
  [[0,4,4],[0.5,3,3],[1,2,2],[2,1.3,1.3],[3,1,1],[5,0.6,0.6],[6.45,0.4,0.4],[6.5,9.5,12],[7,13.5,16],[7.5,16.5,19],[8,17.5,20],[8.5,18.5,21],[9,19.5,22],[9.5,17.5,20],[10,15.5,18],[10.5,12.5,15],[11,9,11],[11.5,5.5,7],[12,3,3]],
  [[0,3,3],[0.5,2.5,2.5],[1,2,2],[2,1.2,1.2],[3,1,1],[5,0.8,0.8],[7.35,0.6,0.6],[7.4,12.5,15],[7.9,16.5,19],[8.3,18.5,21],[9.1,20.5,23],[9.7,21.5,24],[10.1,19.5,22],[10.5,17.5,20],[11,14.5,17],[11.7,8,10],[12,5,6]],
  [[0,5,5],[0.5,3.5,3.5],[1,2.5,2.5],[2,1.5,1.5],[3,1,1],[5,0.6,0.6],[7.25,0.5,0.5],[7.3,11.5,14],[7.8,13.5,16],[8.3,15,17],[8.8,15.5,18],[9.3,16.5,19],[9.8,18.5,21],[10.3,16.5,19],[10.8,13.5,16],[11.3,12.5,15],[11.7,8,10],[12,4,4]],
  [[0,4,4],[0.5,2.5,2.5],[1,1.5,1.5],[2,0.8,0.8],[3,0.5,0.5],[5,0.3,0.3],[7.05,0.3,0.3],[7.1,10.5,13],[7.6,13.5,16],[8.1,15.5,18],[8.6,16.5,19],[9.1,17.5,20],[9.6,19.5,22],[10.1,16.5,19],[10.6,13.5,16],[11.1,9.5,12],[11.6,6.5,8],[12,3.5,3.5]],
  [[0,3.5,3.5],[0.5,2.5,2.5],[1,1.8,1.8],[2,1.2,1.2],[3,1,1],[5,0.8,0.8],[7.45,0.7,0.7],[7.5,12.5,15],[7.9,15.5,18],[8.3,17.5,20],[8.8,19.5,22],[9.3,21.5,24],[9.8,20.5,23],[10.3,17.5,20],[10.8,14.5,17],[11.3,10.5,13],[11.8,6.5,8],[12,4,4]],
  [[0,4,4],[0.5,3,3],[1,2,2],[2,1.3,1.3],[3,1,1],[5,0.8,0.8],[6.65,0.7,0.7],[6.7,10.5,13],[7.2,13.5,16],[7.7,16.5,19],[8.2,17.5,20],[8.7,19.5,22],[9.2,20.5,23],[9.7,19.5,22],[10.2,17.5,20],[10.7,14.5,17],[11.2,10.5,13],[11.7,7.5,9],[12,4,4]],
  [[0,4,4],[0.5,3,3],[1,2.2,2.2],[2,1.5,1.5],[3,1.1,1.1],[5,0.7,0.7],[7.25,0.5,0.5],[7.3,8,10],[8,13.5,16],[9,17.5,20],[10,18.5,21],[11,12,14],[12,4,4]]
];

// ---------------------------------------------------------------

var svg = d3.select("#chart")
    .attr("width", width)
    .attr("height", height);

var x = d3.scaleTime()
    .domain([new Date(1988, 9, 1), new Date(2008, 9, 1)])
    .range([63, 1047]);

function toDate(wy, m) {
  return new Date(new Date(wy - 1, 9, 1).getTime() + m * 30.4375 * 864e5);
}

// per-year arrays -> one time series
function joinYears(perYear) {
  var out = [];
  perYear.forEach(function(arr, i) {
    arr.forEach(function(p) {
      out.push([toDate(waterYears[i], p[0])].concat(p.slice(1)));
    });
  });
  return out;
}

var albedoSeries = [];
waterYears.forEach(function(wy, i) {
  var on = albedoOnset[i], melt = albedoMelt[i], win = albedoWinter[i];
  var m0 = on[on.length - 1][0], m1 = melt[0][0];
  on.forEach(function(p) { albedoSeries.push([toDate(wy, p[0]), p[1]]); });
  win.forEach(function(v, k) {
    albedoSeries.push([toDate(wy, m0 + (m1 - m0) * (k + 1) / (win.length + 1)), v]);
  });
  melt.forEach(function(p) { albedoSeries.push([toDate(wy, p[0]), p[1]]); });
});

var panelH = 110;
var panels = [
  {top: 29,    label: "SWE (mm)",          domain: [0, 800],  ticks: d3.range(0, 801, 100), fmt: d3.format("d"),   labelX: 24},
  {top: 161.5, label: "Snow depth (m)",    domain: [0, 2.5],  ticks: [0, 0.5, 1, 1.5, 2, 2.5], fmt: d3.format(".1f"), labelX: 28},
  {top: 294.5, label: "Albedo",            domain: [0, 1],    ticks: [0, 0.2, 0.4, 0.6, 0.8, 1], fmt: d3.format(".1f"), labelX: 30},
  {top: 427,   label: "Soil temperature (° C)", domain: [-15, 25], ticks: d3.range(-15, 26, 5), fmt: d3.format("d"), labelX: 21}
];

// big headline of the page, only its lowest strip is inside the picture
var head = svg.append("svg")
    .attr("x", 0).attr("y", 0)
    .attr("width", width).attr("height", 10)
    .style("overflow", "hidden");
head.append("text")
    .attr("x", 515).attr("y", 8)
    .attr("text-anchor", "middle")
    .style("font-size", "50px")
    .text("Modelled and measured snow and soil states at the RME site");

svg.append("text")
    .attr("x", 555).attr("y", 24)
    .attr("text-anchor", "middle")
    .style("font-size", "15.5px")
    .text("Reynolds Mountain East");

var yearDates = yearTicks.map(function(yr) { return new Date(yr, 0, 1); });

panels.forEach(function(p, pi) {
  var y = d3.scaleLinear().domain(p.domain).range([p.top + panelH, p.top]);
  var g = svg.append("g");

  g.append("clipPath").attr("id", "clip" + pi)
    .append("rect")
      .attr("x", x.range()[0]).attr("y", p.top)
      .attr("width", x.range()[1] - x.range()[0]).attr("height", panelH);

  var plot = g.append("g").attr("clip-path", "url(#clip" + pi + ")");

  var line = d3.line().x(function(d) { return x(d[0]); }).y(function(d) { return y(d[1]); });
  var band = d3.area()
      .x(function(d) { return x(d[0]); })
      .y0(function(d) { return y(d[1]); })
      .y1(function(d) { return y(d[2]); });

  if (pi == 0) {
    plot.append("path").datum(joinYears(sweModel))
        .attr("d", line).attr("fill", "none").attr("stroke", "#000").attr("stroke-width", 1);
    plot.selectAll(".obs").data(joinYears(sweObs)).enter().append("circle")
        .attr("cx", function(d) { return x(d[0]); })
        .attr("cy", function(d) { return y(d[1]); })
        .attr("r", 3).attr("fill", "#ff0000").attr("stroke", "#000").attr("stroke-width", 0.4);
  }
  if (pi == 1) {
    plot.append("path").datum(joinYears(depthModel))
        .attr("d", line).attr("fill", "none").attr("stroke", "#000").attr("stroke-width", 1);
    plot.append("path").datum(joinYears(depthSensor))
        .attr("d", line).attr("fill", "none").attr("stroke", "#ff0000").attr("stroke-width", 1);
    plot.selectAll(".obs").data(joinYears(depthObs)).enter().append("circle")
        .attr("cx", function(d) { return x(d[0]); })
        .attr("cy", function(d) { return y(d[1]); })
        .attr("r", 3).attr("fill", "#ff0000").attr("stroke", "#000").attr("stroke-width", 0.4);
  }
  if (pi == 2) {
    plot.append("path").datum(albedoSeries)
        .attr("d", line).attr("fill", "none").attr("stroke", "#000").attr("stroke-width", 1.3);
  }
  if (pi == 3) {
    plot.append("path").datum(joinYears(soilBlack))
        .attr("d", band).attr("fill", "#000").attr("stroke", "#000").attr("stroke-width", 1);
    plot.append("path").datum(joinYears(soilRed))
        .attr("d", band).attr("fill", "#ff0000").attr("stroke", "#ff0000").attr("stroke-width", 1);
  }

  // frame
  g.append("rect")
      .attr("x", x.range()[0]).attr("y", p.top)
      .attr("width", x.range()[1] - x.range()[0]).attr("height", panelH)
      .attr("fill", "none").attr("stroke", "#000").attr("stroke-width", 1);

  // x ticks, inward on top and bottom
  yearDates.forEach(function(d) {
    var xx = Math.round(x(d)) + 0.5;
    g.append("line").attr("x1", xx).attr("x2", xx)
        .attr("y1", p.top + panelH).attr("y2", p.top + panelH - 4).attr("stroke", "#000");
    g.append("line").attr("x1", xx).attr("x2", xx)
        .attr("y1", p.top).attr("y2", p.top + 4).attr("stroke", "#000");
    g.append("text")
        .attr("x", x(d)).attr("y", p.top + panelH + 14.5)
        .attr("text-anchor", "middle")
        .style("font-size", "12.5px")
        .text(d.getFullYear());
  });

  // y ticks
  p.ticks.forEach(function(v) {
    var yy = y(v);
    g.append("line").attr("x1", x.range()[0]).attr("x2", x.range()[0] + 4)
        .attr("y1", yy).attr("y2", yy).attr("stroke", "#000");
    g.append("line").attr("x1", x.range()[1]).attr("x2", x.range()[1] - 4)
        .attr("y1", yy).attr("y2", yy).attr("stroke", "#000");
    g.append("text")
        .attr("x", 59).attr("y", yy).attr("dy", "0.36em")
        .attr("text-anchor", "end")
        .style("font-size", "12.5px")
        .text(p.fmt(v));
  });

  g.append("text")
      .attr("transform", "translate(" + p.labelX + "," + (p.top + panelH / 2) + ")rotate(-90)")
      .attr("text-anchor", "middle")
      .style("font-size", "12.5px")
      .text(p.label);
});
</script>
</body>
</html>
